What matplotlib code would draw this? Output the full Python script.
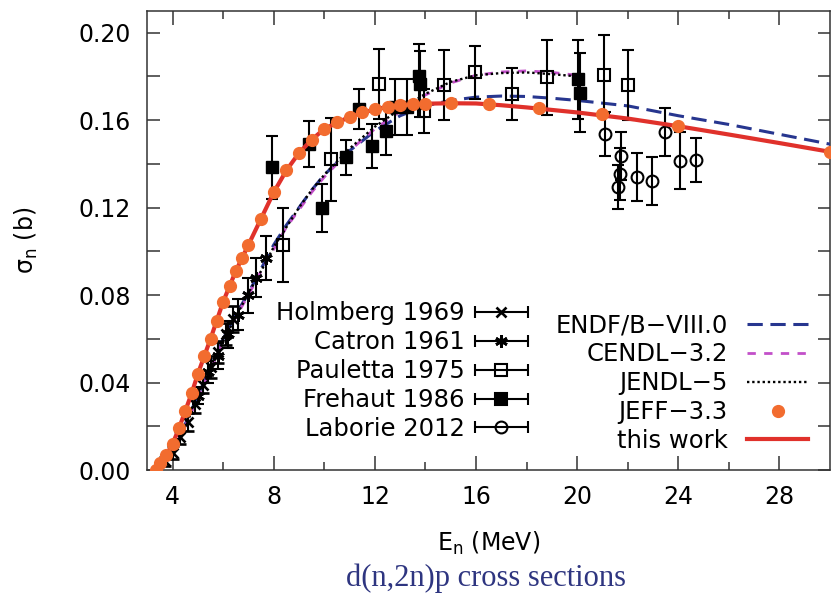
import numpy as np
import matplotlib.pyplot as plt
from matplotlib.container import ErrorbarContainer
from matplotlib.legend_handler import HandlerErrorbar
from matplotlib.lines import Line2D

# evaluated data (MeV, b)
e_endf = [3.34, 3.5, 4.0, 4.5, 5.0, 5.5, 6.0, 6.5, 7.0, 7.5, 8.0, 8.5, 9.0, 9.5, 10, 11, 12, 13, 14, 15,
          16, 17, 18, 19, 20, 22, 24, 26, 28, 30]
sig_endf = [0, 0.002, 0.010, 0.021, 0.034, 0.047, 0.060, 0.071, 0.081, 0.092, 0.103, 0.112, 0.120, 0.128,
            0.135, 0.146, 0.155, 0.162, 0.1665, 0.169, 0.1705, 0.171, 0.1708, 0.170, 0.169, 0.1665, 0.162,
            0.158, 0.1535, 0.149]

e_cendl = [3.34, 3.5, 4.0, 4.5, 5.0, 5.5, 6.0, 6.5, 7.0, 7.5, 8.0, 8.5, 9.0, 9.5, 10, 11, 12, 13, 14, 15,
           16, 17, 18, 19, 20]
sig_cendl = [0, 0.002, 0.009, 0.020, 0.033, 0.046, 0.059, 0.070, 0.080, 0.091, 0.101, 0.111, 0.119, 0.127,
             0.134, 0.146, 0.156, 0.164, 0.1715, 0.177, 0.1805, 0.182, 0.1825, 0.1818, 0.1805]

e_jendl = [3.34, 3.5, 4.0, 4.5, 5.0, 5.5, 6.0, 6.5, 7.0, 7.5, 8.0, 8.5, 9.0, 9.5, 10, 11, 12, 13, 14, 15,
           16, 17, 18, 19, 20]
sig_jendl = [0, 0.002, 0.010, 0.020, 0.033, 0.046, 0.059, 0.070, 0.081, 0.091, 0.102, 0.111, 0.120, 0.128,
             0.135, 0.147, 0.157, 0.165, 0.172, 0.1775, 0.1805, 0.1815, 0.1818, 0.181, 0.180]

e_jeff = [3.34, 3.5, 3.75, 4.0, 4.25, 4.5, 4.75, 5.0, 5.25, 5.5, 5.75, 6.0, 6.25, 6.5, 6.75, 7.0, 7.5, 8.0,
          8.5, 9.0, 9.5, 10, 10.5, 11, 11.5, 12, 12.5, 13, 13.5, 14, 15, 16.5, 18.5, 21, 24, 30]
sig_jeff = [0.0, 0.003, 0.007, 0.012, 0.019, 0.027, 0.035, 0.044, 0.052, 0.060, 0.068, 0.077, 0.084, 0.091,
            0.097, 0.103, 0.115, 0.127, 0.137, 0.145, 0.151, 0.156, 0.159, 0.1615, 0.1635, 0.165, 0.166,
            0.1668, 0.1672, 0.1675, 0.1677, 0.1672, 0.1655, 0.1628, 0.1572, 0.1455]

e_this = [3.34, 3.5, 3.75, 4.0, 4.25, 4.5, 4.75, 5.0, 5.5, 6.0, 6.5, 7.0, 7.5, 8.0, 8.5, 9.0, 9.5, 10, 11,
          12, 13, 14, 15, 16, 17, 18, 20, 22, 24, 26, 28, 30]
sig_this = [0, 0.003, 0.007, 0.012, 0.019, 0.027, 0.035, 0.044, 0.060, 0.077, 0.091, 0.103, 0.115, 0.127,
            0.137, 0.145, 0.151, 0.156, 0.1615, 0.165, 0.1668, 0.1675, 0.1677, 0.1676, 0.1668, 0.1658,
            0.1635, 0.1607, 0.1572, 0.1534, 0.1495, 0.1455]

# experimental data
e_holm = [3.7, 4.0, 4.3, 4.6, 4.9, 5.2, 5.5, 5.8, 6.1, 6.4]
sig_holm = [0.004, 0.008, 0.015, 0.022, 0.030, 0.039, 0.047, 0.054, 0.062, 0.069]
err_holm = [0.002, 0.003, 0.003, 0.004, 0.004, 0.004, 0.005, 0.005, 0.005, 0.006]

e_catr = [5.0, 5.4, 5.8, 6.2, 6.6, 7.0, 7.3, 7.7]
sig_catr = [0.034, 0.045, 0.052, 0.062, 0.071, 0.080, 0.088, 0.097]
err_catr = [0.004, 0.005, 0.006, 0.006, 0.007, 0.008, 0.009, 0.010]

e_paul = [8.35, 10.25, 12.15, 13.93, 14.72, 15.97, 17.42, 18.8, 21.07, 22.0]
sig_paul = [0.103, 0.142, 0.1764, 0.164, 0.176, 0.1818, 0.1719, 0.1795, 0.1807, 0.176]
err_paul = [0.017, 0.019, 0.016, 0.010, 0.016, 0.012, 0.012, 0.017, 0.018, 0.016]

e_freh = [7.92, 9.4, 9.9, 10.84, 11.37, 11.9, 12.42, 12.8, 13.27, 13.74, 13.8, 20.04, 20.1]
sig_freh = [0.1384, 0.149, 0.120, 0.143, 0.165, 0.148, 0.155, 0.166, 0.166, 0.180, 0.1764, 0.1787, 0.1726]
err_freh = [0.0145, 0.0105, 0.011, 0.008, 0.009, 0.010, 0.011, 0.013, 0.013, 0.015, 0.015, 0.018, 0.018]

e_labo = [21.1, 21.6, 21.7, 21.75, 22.38, 22.96, 23.49, 24.05, 24.71]
sig_labo = [0.1536, 0.1293, 0.1354, 0.1437, 0.1339, 0.1323, 0.1544, 0.1415, 0.1418]
err_labo = [0.010, 0.010, 0.012, 0.011, 0.011, 0.011, 0.011, 0.013, 0.010]

plt.rcParams['font.family'] = 'DejaVu Sans'

fig = plt.figure(figsize=(8.31, 5.97), dpi=100)
ax = fig.add_axes([0.1773, 0.2127, 0.8215, 0.7693])

c_endf = '#27368f'
c_cendl = '#c24fc9'
c_red = '#e0312b'
c_jeff = '#f26c2f'

ax.plot(e_endf, sig_endf, color=c_endf, lw=2.2, ls=(0, (5, 2.5)), zorder=3)
ax.plot(e_cendl, sig_cendl, color=c_cendl, lw=2.0, ls=(0, (3, 3)), zorder=3)
ax.plot(e_jendl, sig_jendl, color='k', lw=1.7, ls=(0, (1, 1.2)), zorder=3)

eb_kw = dict(color='k', ecolor='k', elinewidth=1.5, capsize=4, capthick=1.5, ls='none', zorder=4)
ax.errorbar(e_holm, sig_holm, yerr=err_holm, fmt='x', ms=7, mew=1.9, **eb_kw)
ax.errorbar(e_catr, sig_catr, yerr=err_catr, fmt='none', **eb_kw)
ax.plot(e_catr, sig_catr, ls='none', marker=(6, 2, 0), ms=9, mew=2, color='k', zorder=4)
ax.errorbar(e_paul, sig_paul, yerr=err_paul, fmt='s', ms=8.5, mfc='none', mew=1.5, **eb_kw)
ax.errorbar(e_freh, sig_freh, yerr=err_freh, fmt='s', ms=8, mfc='k', **eb_kw)
ax.errorbar(e_labo, sig_labo, yerr=err_labo, fmt='o', ms=8.5, mfc='none', mew=1.5, **eb_kw)

ax.plot(e_this, sig_this, color=c_red, lw=3.0, zorder=5)
ax.plot(e_jeff, sig_jeff, ls='none', marker='o', ms=8.5, color=c_jeff, zorder=6)

ax.set_xlim(3, 30)
ax.set_ylim(0, 0.21)
ax.set_xticks(np.arange(4, 29, 4))
ax.set_xticks(np.arange(6, 29, 4), minor=True)
ax.set_yticks(np.arange(0, 0.201, 0.04))
ax.set_yticks(np.arange(0.02, 0.21, 0.04), minor=True)
ax.yaxis.set_major_formatter(plt.FormatStrFormatter('%.2f'))
ax.tick_params(which='both', direction='in', top=True, right=True, labelsize=17, color='#333333')
ax.tick_params(axis='x', which='major', length=10, width=1.1, pad=11)
ax.tick_params(axis='x', which='minor', length=5.5, width=1.1)
ax.tick_params(axis='y', which='major', length=9, width=1.1, pad=12)
ax.tick_params(axis='y', which='minor', length=9, width=1.1)
for s in ax.spines.values():
    s.set_color('#333333')
    s.set_linewidth(1.1)

ax.set_xlabel('E$_\\mathregular{n}$ (MeV)', fontsize=17)
ax.set_ylabel('σ$_\\mathregular{n}$ (b)', fontsize=17)
ax.xaxis.set_label_coords(0.5, -0.13)
ax.yaxis.set_label_coords(-0.157, 0.5)

# legend, experiments (gnuplot style errorbar keys)
def key(marker, mfc, ms, mew):
    ln = Line2D([], [], ls='none', marker=marker, mfc=mfc, mec='k', ms=ms, mew=mew, color='k')
    cap = Line2D([], [], ls='none', marker='|', color='k', ms=8, mew=1.5)
    bar = ax.hlines([], [], [], color='k', lw=1.5)
    return ErrorbarContainer((ln, [cap, cap], [bar]), has_xerr=True, has_yerr=False)

exp_keys = [key('x', 'k', 7, 1.9), key((6, 2, 0), 'k', 9, 2), key('s', 'none', 8.5, 1.5),
            key('s', 'k', 8, 1.5), key('o', 'none', 8.5, 1.5)]
exp_labels = ['Holmberg 1969', 'Catron 1961', 'Pauletta 1975', 'Frehaut 1986', 'Laborie 2012']
leg1 = fig.legend(exp_keys, exp_labels, loc='upper right', bbox_to_anchor=(0.6354, 0.495),
                  frameon=False, fontsize=17.5, markerfirst=False, handlelength=2.2,
                  handletextpad=0.4, labelspacing=0.2, borderpad=0, borderaxespad=0,
                  handler_map={ErrorbarContainer: HandlerErrorbar(xerr_size=1.1)})

eval_keys = [Line2D([], [], color=c_endf, lw=2.2, ls=(0, (5, 2.5))),
             Line2D([], [], color=c_cendl, lw=2.0, ls=(0, (3, 3))),
             Line2D([], [], color='k', lw=1.7, ls=(0, (1, 1.2))),
             Line2D([], [], color=c_jeff, ls='none', marker='o', ms=8.5),
             Line2D([], [], color=c_red, lw=3.0)]
eval_labels = ['ENDF/B\u2212VIII.0', 'CENDL\u22123.2', 'JENDL\u22125', 'JEFF\u22123.3', 'this work']
leg2 = fig.legend(eval_keys, eval_labels, loc='upper right', bbox_to_anchor=(0.9723, 0.475),
                  frameon=False, fontsize=17.5, markerfirst=False, handlelength=2.5,
                  handletextpad=0.8, labelspacing=0.2, borderpad=0, borderaxespad=0)

fig.text(0.585, 0.032, 'd(n,2n)p cross sections', family='Liberation Serif', fontsize=22,
         color='#2e3580', ha='center', va='center')

fig.savefig('out.png', dpi=100)
